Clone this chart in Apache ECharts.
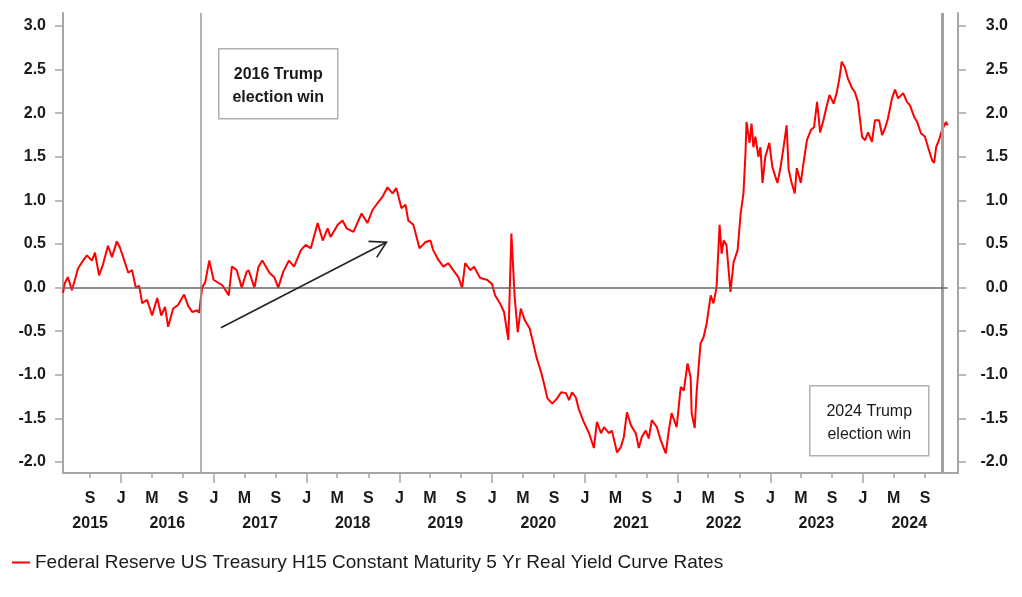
<!DOCTYPE html>
<html>
<head>
<meta charset="utf-8">
<script src="https://cdn.jsdelivr.net/npm/echarts@6/dist/echarts.min.js"></script>
<style>
html,body{margin:0;padding:0;background:#fff;}
#chart{width:1022px;height:597px;}
</style>
</head>
<body>
<div id="chart"></div>
<script>
// ---------------- DATA ----------------
const seriesName = 'Federal Reserve US Treasury H15 Constant Maturity 5 Yr Real Yield Curve Rates';

const dates = [
'2015-05-17','2015-05-24','2015-06-05','2015-06-21','2015-07-03','2015-07-15','2015-08-04','2015-08-19','2015-09-08','2015-09-20','2015-10-06','2015-10-21','2015-11-10','2015-11-26','2015-12-15','2015-12-27',
'2016-01-09','2016-01-29','2016-02-13','2016-02-28','2016-03-12','2016-03-24','2016-04-12','2016-05-02','2016-05-22','2016-06-07','2016-06-22','2016-07-04','2016-07-24','2016-08-12','2016-09-05','2016-09-21','2016-10-07','2016-10-26','2016-11-03','2016-11-15','2016-11-27','2016-12-13','2016-12-30',
'2017-01-20','2017-02-01','2017-02-09','2017-02-28','2017-03-12','2017-03-31','2017-04-20','2017-05-09','2017-05-17','2017-06-09','2017-06-25','2017-07-10','2017-08-07','2017-08-26','2017-09-11','2017-09-30','2017-10-23','2017-11-12','2017-12-09','2017-12-28',
'2018-01-17','2018-02-13','2018-03-05','2018-03-24','2018-04-05','2018-05-03','2018-05-22','2018-06-07','2018-07-04','2018-08-05','2018-08-28','2018-09-17','2018-10-07','2018-10-26','2018-11-15','2018-12-05','2018-12-20',
'2019-01-09','2019-01-25','2019-02-05','2019-02-25','2019-03-21','2019-04-13','2019-05-03','2019-05-14','2019-06-03','2019-06-23','2019-07-12','2019-08-01','2019-08-21','2019-09-05','2019-09-17','2019-10-07','2019-10-22','2019-11-15','2019-12-12',
'2020-01-01','2020-01-13','2020-02-01','2020-02-17','2020-03-05','2020-03-17','2020-03-30','2020-04-11','2020-04-23','2020-05-08','2020-05-28','2020-06-08','2020-06-24','2020-07-13','2020-07-25','2020-08-06','2020-08-25','2020-09-13','2020-09-29','2020-10-18','2020-10-30','2020-11-11','2020-11-26','2020-12-08','2020-12-27',
'2021-01-17','2021-02-05','2021-02-17','2021-03-05','2021-03-17','2021-04-05','2021-04-17','2021-05-07','2021-05-22','2021-06-03','2021-06-15','2021-07-01','2021-07-20','2021-08-01','2021-08-13','2021-08-28','2021-09-09','2021-09-21','2021-10-11','2021-10-26','2021-11-15','2021-11-27','2021-12-08','2021-12-28',
'2022-01-13','2022-01-25','2022-02-09','2022-02-21','2022-02-25','2022-03-09','2022-03-17','2022-04-01','2022-04-13','2022-04-25','2022-05-11','2022-05-22','2022-06-03','2022-06-15','2022-06-23','2022-07-01','2022-07-12','2022-07-28','2022-08-09','2022-08-25','2022-09-06','2022-09-17','2022-09-25','2022-09-29','2022-10-11','2022-10-19','2022-10-26','2022-11-03','2022-11-15','2022-11-23','2022-12-01','2022-12-12','2022-12-28',
'2023-01-09','2023-01-21','2023-01-29','2023-02-10','2023-02-22','2023-03-06','2023-03-14','2023-03-26','2023-04-07','2023-04-15','2023-05-01','2023-05-09','2023-05-25','2023-06-10','2023-06-22','2023-07-04','2023-07-16','2023-07-29','2023-08-10','2023-08-22','2023-09-07','2023-09-19','2023-10-01','2023-10-09','2023-10-21','2023-11-02','2023-11-18','2023-11-30','2023-12-12','2023-12-28',
'2024-01-09','2024-01-21','2024-02-05','2024-02-17','2024-03-04','2024-03-16','2024-03-28','2024-04-08','2024-04-24','2024-05-06','2024-05-18','2024-06-07','2024-06-22','2024-07-04','2024-07-20','2024-08-01','2024-08-16','2024-09-01','2024-09-13','2024-09-29','2024-10-07','2024-10-15','2024-10-26','2024-11-07','2024-11-23','2024-11-29'
];

const values = [
-0.06,0.05,0.12,-0.03,0.09,0.22,0.31,0.37,0.31,0.40,0.14,0.26,0.48,0.35,0.53,0.46,
0.35,0.17,0.20,0.00,0.02,-0.18,-0.14,-0.32,-0.12,-0.32,-0.22,-0.45,-0.24,-0.20,-0.08,-0.21,-0.28,-0.26,-0.29,0.00,0.06,0.31,0.09,
0.05,0.03,0.00,-0.09,0.24,0.20,0.00,0.18,0.20,0.00,0.24,0.31,0.17,0.12,0.00,0.18,0.31,0.24,0.43,0.49,
0.45,0.74,0.54,0.68,0.58,0.72,0.77,0.68,0.64,0.85,0.74,0.89,0.97,1.04,1.15,1.08,1.14,
0.91,0.95,0.77,0.72,0.45,0.52,0.54,0.43,0.32,0.24,0.28,0.20,0.12,0.00,0.28,0.20,0.24,0.11,0.09,
0.04,-0.09,-0.18,-0.28,-0.60,0.62,-0.11,-0.51,-0.24,-0.37,-0.47,-0.60,-0.80,-0.98,-1.12,-1.27,-1.33,-1.27,-1.20,-1.21,-1.29,-1.20,-1.26,-1.40,-1.54,
-1.67,-1.84,-1.54,-1.67,-1.60,-1.67,-1.64,-1.89,-1.83,-1.71,-1.43,-1.58,-1.67,-1.84,-1.71,-1.64,-1.73,-1.52,-1.60,-1.75,-1.90,-1.64,-1.44,-1.60,
-1.14,-1.18,-0.87,-1.03,-1.44,-1.61,-1.18,-0.64,-0.57,-0.41,-0.09,-0.18,0.00,0.72,0.39,0.54,0.49,-0.05,0.29,0.43,0.85,1.08,1.54,1.90,1.66,1.88,1.61,1.73,1.50,1.61,1.20,1.50,1.66,
1.38,1.27,1.20,1.38,1.61,1.86,1.35,1.20,1.08,1.37,1.20,1.38,1.69,1.81,1.84,2.13,1.78,1.92,2.07,2.21,2.11,2.23,2.42,2.59,2.53,2.40,2.29,2.24,2.13,1.73,
1.69,1.78,1.67,1.92,1.92,1.75,1.83,1.94,2.17,2.27,2.17,2.23,2.13,2.09,1.96,1.90,1.77,1.73,1.61,1.46,1.43,1.61,1.69,1.81,1.90,1.86
];

const yTickValues = [-2.0,-1.5,-1.0,-0.5,0.0,0.5,1.0,1.5,2.0,2.5,3.0];
const monthTickDates = ['2015-09-01','2016-01-01','2016-05-01','2016-09-01','2017-01-01','2017-05-01','2017-09-01','2018-01-01','2018-05-01','2018-09-01','2019-01-01','2019-05-01','2019-09-01','2020-01-01','2020-05-01','2020-09-01','2021-01-01','2021-05-01','2021-09-01','2022-01-01','2022-05-01','2022-09-01','2023-01-01','2023-05-01','2023-09-01','2024-01-01','2024-05-01','2024-09-01'];
const monthTickLabels = ['S','J','M','S','J','M','S','J','M','S','J','M','S','J','M','S','J','M','S','J','M','S','J','M','S','J','M','S'];
const yearLabels = ['2015','2016','2017','2018','2019','2020','2021','2022','2023','2024'];
const yearLabelDates = ['2015-09-01','2016-07-01','2017-07-01','2018-07-01','2019-07-01','2020-07-01','2021-07-01','2022-07-01','2023-07-01','2024-07-01'];
const janTickDates = ['2016-01-01','2017-01-01','2018-01-01','2019-01-01','2020-01-01','2021-01-01','2022-01-01','2023-01-01','2024-01-01'];

const xStart = '2015-05-17', xEnd = '2025-01-09';
const election2016 = '2016-11-08', election2024 = '2024-11-07';
const zeroLineEnd = '2024-11-29';
const arrowFrom = ['2017-01-28', -0.46], arrowTo = ['2018-11-11', 0.52];
const note2016 = '2016 Trump\nelection win';
const note2024 = '2024 Trump\nelection win';

// ---------------- HELPERS ----------------
function ts(s){const p=s.split('-').map(Number);return new Date(p[0],p[1]-1,p[2]).getTime();}
const seriesData = dates.map((d,i)=>[ts(d), values[i]]);
const monthTs = monthTickDates.map(ts);
const monthLabelMap = {}; monthTs.forEach((t,i)=>monthLabelMap[t]=monthTickLabels[i]);
const yearTs = yearLabelDates.map(ts);
const yearLabelMap = {}; yearTs.forEach((t,i)=>yearLabelMap[t]=yearLabels[i]);
const janTs = janTickDates.map(ts);

const FONT = "Arial, 'Liberation Sans', sans-serif";
const AX = '#a6a6a6';
const YMIN = -2.126, YMAX = 3.149;

const chart = echarts.init(document.getElementById('chart'), null, {renderer:'canvas'});

function yAxisCfg(pos){
  return {
    type:'value', position:pos, min:YMIN, max:YMAX,
    axisLine:{show:true, lineStyle:{color:AX, width:2}},
    axisTick:{show:true, length:8, lineStyle:{color:AX, width:1.5}, customValues:yTickValues},
    axisLabel:{show:true, customValues:yTickValues, formatter:v=>Number(v).toFixed(1),
      fontFamily:FONT, fontSize:16, fontWeight:'bold', color:'#1a1a1a',
      align:'right', margin: pos==='left'?17:50},
    splitLine:{show:false}
  };
}
function xAxisBase(){
  return {type:'value', min:ts(xStart), max:ts(xEnd), position:'bottom', scale:true, splitLine:{show:false}};
}

const option = {
  animation:false,
  backgroundColor:'#fff',
  grid:{left:63, right:64, top:13, bottom:124, containLabel:false},
  legend:{
    show:true, left:12, top:553, padding:0, icon:'rect', itemWidth:18, itemHeight:2, itemGap:8,
    textStyle:{fontFamily:FONT, fontSize:19, color:'#1a1a1a'},
    data:[seriesName]
  },
  xAxis:[
    Object.assign(xAxisBase(), {
     axisLine:{show:true, onZero:false, lineStyle:{color:AX, width:2}},
     axisTick:{show:true, length:5, customValues:monthTs, lineStyle:{color:AX, width:1.5}},
     axisLabel:{show:true, customValues:monthTs, formatter:v=>monthLabelMap[v]||'', margin:18,
       fontFamily:FONT, fontSize:16, fontWeight:'bold', color:'#1a1a1a', hideOverlap:false}}),
    Object.assign(xAxisBase(), {
     axisLine:{show:false, onZero:false}, axisTick:{show:false},
     axisLabel:{show:true, customValues:yearTs, formatter:v=>yearLabelMap[v]||'', margin:43,
       fontFamily:FONT, fontSize:16, fontWeight:'bold', color:'#1a1a1a', hideOverlap:false}}),
    Object.assign(xAxisBase(), {
     axisLine:{show:false, onZero:false},
     axisTick:{show:true, length:10, customValues:janTs, lineStyle:{color:AX, width:1.5}},
     axisLabel:{show:false}})
  ],
  yAxis:[yAxisCfg('left'), yAxisCfg('right')],
  series:[{
    name:seriesName, type:'line', xAxisIndex:0, yAxisIndex:0,
    data:seriesData, showSymbol:false, symbol:'none',
    lineStyle:{color:'#ff0000', width:2}, itemStyle:{color:'#ff0000'},
    z:3,
    markLine:{
      silent:true, symbol:['none','none'], label:{show:false}, animation:false,
      data:[
        {xAxis:ts(election2016), lineStyle:{color:'#9a9a9a', width:1.5, type:'solid'}},
        {xAxis:ts(election2024), lineStyle:{color:'#a0a0a0', width:3, type:'solid'}},
        [{coord:[ts(xStart),0], lineStyle:{color:'#666', width:1.5, type:'solid'}},{coord:[ts(zeroLineEnd),0]}]
      ]
    }
  }]
};
chart.setOption(option);

// annotations & arrow
function boxGroup(id, x, y, w, h, text, weight){
  return {type:'group', id:id, left:x, top:y, z:10, children:[
    {type:'rect', shape:{x:0,y:0,width:w,height:h}, style:{fill:'#fff', stroke:'#b0b0b0', lineWidth:1.5}},
    {type:'text', x:w/2, y:h/2+2, style:{text:text, fontFamily:FONT, fontSize:16, fontWeight:weight,
      fill:'#1a1a1a', align:'center', verticalAlign:'middle', lineHeight:23}}
  ]};
}
const p1 = chart.convertToPixel({xAxisIndex:0, yAxisIndex:0}, [ts(arrowFrom[0]), arrowFrom[1]]);
const p2 = chart.convertToPixel({xAxisIndex:0, yAxisIndex:0}, [ts(arrowTo[0]), arrowTo[1]]);
const dx = p2[0]-p1[0], dy = p2[1]-p1[1], L = Math.hypot(dx,dy);
const rx = -dx/L, ry = -dy/L, th = Math.PI/6, HL = 18;
const w1 = [p2[0] + HL*(rx*Math.cos(th) - ry*Math.sin(th)), p2[1] + HL*(rx*Math.sin(th) + ry*Math.cos(th))];
const w2 = [p2[0] + HL*(rx*Math.cos(-th) - ry*Math.sin(-th)), p2[1] + HL*(rx*Math.sin(-th) + ry*Math.cos(-th))];

chart.setOption({graphic:[
  boxGroup('b1', 218, 48, 119, 70, note2016, 'bold'),
  boxGroup('b2', 809, 385, 119, 70, note2024, 'normal'),
  {type:'polyline', id:'arrowLine', z:10, shape:{points:[p1,p2]}, style:{stroke:'#222', lineWidth:1.6, fill:null}},
  {type:'polyline', id:'arrowHead', z:10, shape:{points:[w1,p2,w2]}, style:{stroke:'#222', lineWidth:1.6, fill:null}}
]});
</script>
</body>
</html>
